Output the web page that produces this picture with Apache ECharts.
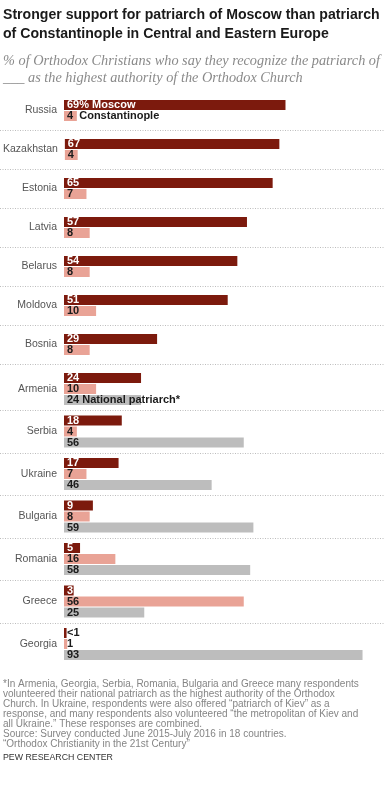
<!DOCTYPE html>
<html>
<head>
<meta charset="utf-8">
<script src="https://cdn.jsdelivr.net/npm/echarts@6/dist/echarts.min.js"></script>
<style>
html,body{margin:0;padding:0;background:#fff;}
#chart{width:385px;height:797px;}
</style>
</head>
<body>
<div id="chart"></div>
<script>
// ---- data ----
const countries = ['Russia','Kazakhstan','Estonia','Latvia','Belarus','Moldova','Bosnia','Armenia','Serbia','Ukraine','Bulgaria','Romania','Greece','Georgia'];
const moscow = [69,67,65,57,54,51,29,24,18,17,9,5,3,0.8];
const constantinople = [4,4,7,8,8,10,8,10,4,7,8,16,56,1];
const national = [null,null,null,null,null,null,null,24,56,46,59,58,25,93];
const seriesNames = ['Moscow','Constantinople','National patriarch*'];
const firstLabelRow = [0,0,7]; // country index where each series name is spelled out

// ---- layout / style ----
const C_DARK = '#7c1a0d', C_LIGHT = '#e9a396', C_GRAY = '#bdbdbd';
const LEFT = 64, ROW = 11, BAR = 10;
const chart = echarts.init(document.getElementById('chart'), null, {renderer:'canvas'});

const grids = [], xAxes = [], yAxes = [], series = [], graphics = [];
let yPos = 99.5;
const tops = [], ns = [];
countries.forEach((c, i) => {
  const n = national[i] == null ? 2 : 3;
  tops.push(yPos); ns.push(n);
  grids.push({left: LEFT, top: yPos, width: 322, height: n * ROW});
  xAxes.push({gridIndex: i, type: 'value', min: 0, max: 100, show: false});
  yAxes.push({gridIndex: i, type: 'category', data: ['m','c','n'].slice(0, n), inverse: true, show: false, position: 'right'});
  yAxes.push({gridIndex: i, type: 'category', data: [c], position: 'left',
    axisLine: {show: false}, axisTick: {show: false}, splitLine: {show: false},
    axisLabel: {margin: 7, color: '#555', fontSize: 10.5, fontFamily: 'Liberation Sans, Arial, sans-serif'}});
  const vals = [moscow[i], constantinople[i], national[i]].slice(0, n);
  const cols = [C_DARK, C_LIGHT, C_GRAY];
  const data = vals.map((v, k) => {
    let txt = (k === 0 && v < 1) ? '<1' : String(v);
    if (firstLabelRow[k] === i) {
      if (k === 0) txt = txt + '% ' + seriesNames[k];
      else if (k === 1) txt = txt + '  ' + seriesNames[k];
      else txt = txt + ' ' + seriesNames[k];
    }
    const dark = (k === 0 && v >= 2);
    return {
      value: v,
      itemStyle: {color: cols[k]},
      label: {show: true, position: 'insideLeft', distance: 3, formatter: txt,
        color: dark ? '#fff' : '#1b1b1b', fontWeight: 'bold', fontSize: 11,
        fontFamily: 'Liberation Sans, Arial, sans-serif'}
    };
  });
  series.push({type: 'bar', xAxisIndex: i, yAxisIndex: 2 * i, barWidth: BAR, data: data, animation: false, silent: true});
  yPos += n * ROW + (n === 2 ? 17 : 9.5);
});

for (let i = 1; i < countries.length; i++) {
  const prevBottom = tops[i - 1] + ns[i - 1] * ROW;
  const y = Math.round((prevBottom + tops[i]) / 2) + 0.5;
  graphics.push({type: 'line', shape: {x1: 0, y1: y, x2: 385, y2: y},
    style: {stroke: '#bdbdbd', lineWidth: 1, lineDash: [1, 1.5]}, silent: true});
}

graphics.push({type: 'text', left: 3, top: 5, style: {
  text: 'Stronger support for patriarch of Moscow than patriarch\nof Constantinople in Central and Eastern Europe',
  font: 'bold 14.1px "Liberation Sans", Arial, sans-serif', fill: '#1a1a1a', lineHeight: 19.5}});
graphics.push({type: 'text', left: 3, top: 53, style: {
  text: '% of Orthodox Christians who say they recognize the patriarch of\n___ as the highest authority of the Orthodox Church',
  font: 'italic 14.3px "Liberation Serif", "DejaVu Serif", serif', fill: '#8a8a8a', lineHeight: 17}});
graphics.push({type: 'text', left: 3, top: 679, style: {
  text: '*In Armenia, Georgia, Serbia, Romania, Bulgaria and Greece many respondents\n' +
        'volunteered their national patriarch as the highest authority of the Orthodox\n' +
        'Church. In Ukraine, respondents were also offered \u201cpatriarch of Kiev\u201d as a\n' +
        'response, and many respondents also volunteered \u201cthe metropolitan of Kiev and\n' +
        'all Ukraine.\u201d These responses are combined.\n' +
        'Source: Survey conducted June 2015-July 2016 in 18 countries.\n' +
        '\u201cOrthodox Christianity in the 21st Century\u201d',
  font: '10px "Liberation Sans", Arial, sans-serif', fill: '#858585', lineHeight: 10}});
graphics.push({type: 'text', left: 3, top: 753, style: {
  text: 'PEW RESEARCH CENTER',
  font: '8.8px "Liberation Sans", Arial, sans-serif', fill: '#333'}});

chart.setOption({
  animation: false,
  grid: grids, xAxis: xAxes, yAxis: yAxes, series: series, graphic: graphics
});
</script>
</body>
</html>
